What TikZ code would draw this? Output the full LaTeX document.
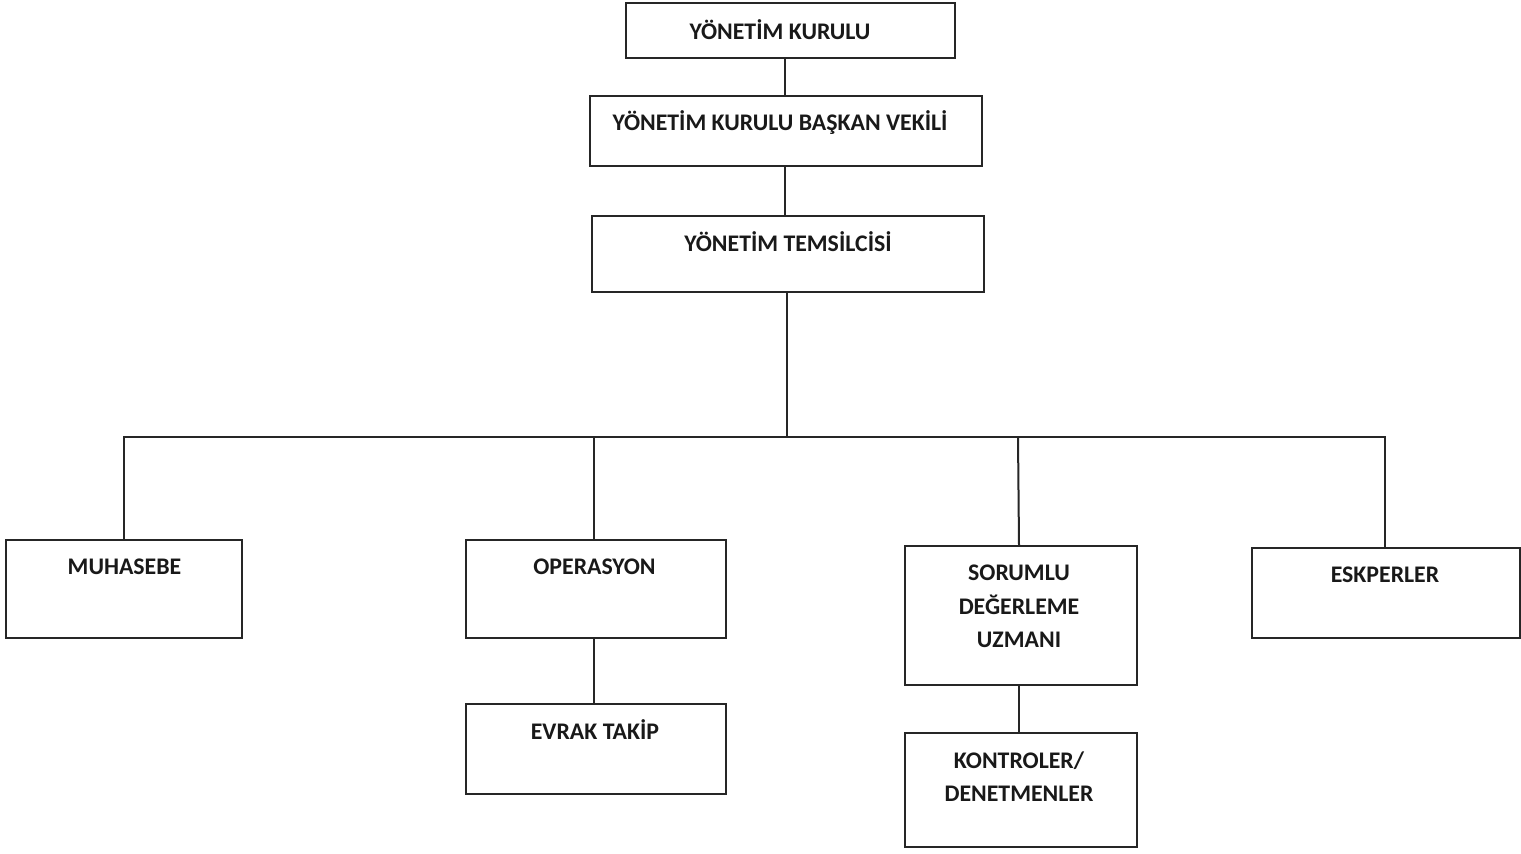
\documentclass[tikz,border=0pt]{standalone}
\usepackage{fontspec}
\setmainfont{Carlito}
\begin{document}
\begin{tikzpicture}[x=0.5pt,y=-0.5pt,
  box/.style={draw=black!85, line width=1pt, fill=white, inner sep=0pt},
  lbl/.style={font=\fontsize{11.9}{16.8}\selectfont\bfseries, align=center, inner sep=0pt, text=black!90},
  conn/.style={draw=black!85, line width=1pt}]
\useasboundingbox (0,0) rectangle (1521,853);
% boxes
\node[box, minimum width=164.5pt, minimum height=27.5pt] (yk) at (790.5,30.5) {};
\node[box, minimum width=196pt, minimum height=35pt] (ykbv) at (786,131) {};
\node[box, minimum width=196pt, minimum height=38pt] (yt) at (788,254) {};
\node[box, minimum width=118pt, minimum height=49pt] (muh) at (124,589) {};
\node[box, minimum width=130pt, minimum height=49pt] (ops) at (596,589) {};
\node[box, minimum width=130pt, minimum height=45pt] (evr) at (596,749) {};
\node[box, minimum width=116pt, minimum height=69.5pt] (sor) at (1021,615.5) {};
\node[box, minimum width=116pt, minimum height=57pt] (kon) at (1021,790) {};
\node[box, minimum width=134pt, minimum height=45pt] (esk) at (1386,593) {};
% labels
\node[lbl] at (780,30) {YÖNETİM KURULU};
\node[lbl] at (780,123) {YÖNETİM KURULU BAŞKAN VEKİLİ};
\node[lbl] at (788,242) {YÖNETİM TEMSİLCİSİ};
\node[lbl] at (124.5,567) {MUHASEBE};
\node[lbl] at (594.5,567) {OPERASYON};
\node[lbl] at (595,730) {EVRAK TAKİP};
\node[lbl] at (1019,606.5) {SORUMLU\\DEĞERLEME\\UZMANI};
\node[lbl] at (1019,776.5) {KONTROLER/\\DENETMENLER};
\node[lbl] at (1385,575) {ESKPERLER};
% connectors
\coordinate (bus) at (787,437);
\draw[conn] (yk.south -| 785,0) -- (ykbv.north -| 785,0);
\draw[conn] (ykbv.south -| 785,0) -- (yt.north -| 785,0);
\draw[conn] (yt.south -| bus) -- (bus);
\draw[conn] (muh.north -| 124,0) |- (bus) -| (esk.north -| 1385,0);
\draw[conn] (ops.north -| 594,0) -- (594,437);
\draw[conn] (sor.north -| 1019,0) -- (1018,437);
\draw[conn] (ops.south -| 594,0) -- (evr.north -| 594,0);
\draw[conn] (sor.south -| 1019,0) -- (kon.north -| 1019,0);
\end{tikzpicture}
\end{document}
